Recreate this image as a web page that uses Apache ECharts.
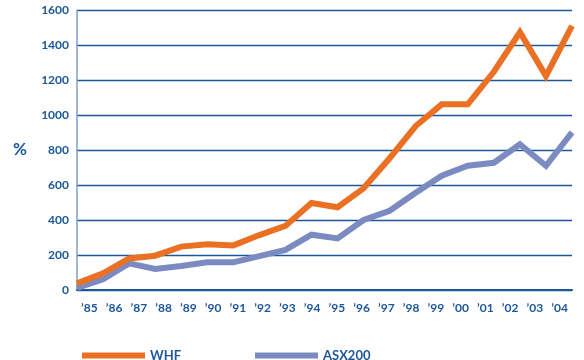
<!DOCTYPE html>
<html>
<head>
<meta charset="utf-8">
<script src="https://cdn.jsdelivr.net/npm/echarts@6/dist/echarts.min.js"></script>
<style>
  html, body { margin: 0; padding: 0; background: #fff; }
  #line-chart { width: 584px; height: 360px; }
</style>
</head>
<body>
<div id="line-chart"></div>
<script>
const years = ["’85", "’86", "’87", "’88", "’89", "’90", "’91", "’92", "’93", "’94",
  "’95", "’96", "’97", "’98", "’99", "’00", "’01", "’02", "’03", "’04"];
const whf = [38, 95, 180, 196, 248, 261, 255, 314, 366, 497,
  473, 581, 753, 937, 1061, 1061, 1247, 1473, 1223, 1509];
const asx200 = [12, 61, 152, 120, 137, 158, 158, 194, 229, 316,
  295, 400, 453, 556, 653, 710, 727, 833, 710, 901];
const yTicks = [0, 200, 400, 600, 800, 1000, 1200, 1400, 1600];

const navy = "#1c5799";
const orange = "#ea7024";
const slate = "#7b8bc2";
const font = "Lato";

const myChart = echarts.init(document.getElementById("line-chart"));

const legendText = { color: navy, fontWeight: "bold", fontSize: 13, fontFamily: font, padding: [3, 0, 0, 0] };

const option = {
  animation: false,
  textStyle: { fontFamily: font },
  grid: { left: 77, right: 12, top: 10, bottom: 70 },
  legend: [
    {
      data: ["WHF"],
      left: 77,
      top: 344,
      icon: "rect",
      itemWidth: 63,
      itemHeight: 6,
      textStyle: legendText,
    },
    {
      data: ["ASX200"],
      left: 250,
      top: 344,
      icon: "rect",
      itemWidth: 63,
      itemHeight: 6,
      textStyle: legendText,
    },
  ],
  xAxis: [
    {
      type: "category",
      data: years,
      boundaryGap: true,
      axisLine: { lineStyle: { color: navy, width: 2 } },
      axisTick: { inside: true, length: 6, lineStyle: { color: navy, width: 1.5 } },
      axisLabel: { color: navy, fontWeight: "bold", fontSize: 12, margin: 12, interval: 0 },
    },
    {
      type: "category",
      data: years,
      boundaryGap: false,
      show: false,
    },
  ],
  yAxis: {
    type: "value",
    min: yTicks[0],
    max: yTicks[yTicks.length - 1],
    interval: 200,
    name: "%",
    nameLocation: "middle",
    nameRotate: 0,
    nameGap: 50,
    nameTextStyle: { color: navy, fontWeight: "bold", fontSize: 17 },
    axisLine: { show: true, lineStyle: { color: "#7d9fcc", width: 1.5 } },
    axisTick: { show: false },
    axisLabel: { color: navy, fontWeight: "bold", fontSize: 12, margin: 8, formatter: (v) => String(v) },
    splitLine: { lineStyle: { color: navy, width: 1.3 } },
  },
  series: [
    {
      name: "ASX200",
      type: "line",
      xAxisIndex: 1,
      data: asx200,
      showSymbol: false,
      color: slate,
      lineStyle: { width: 6, color: slate, join: "miter" },
    },
    {
      name: "WHF",
      type: "line",
      xAxisIndex: 1,
      data: whf,
      showSymbol: false,
      color: orange,
      lineStyle: { width: 6, color: orange, join: "miter" },
    },
  ],
};

myChart.setOption(option);
</script>
</body>
</html>
